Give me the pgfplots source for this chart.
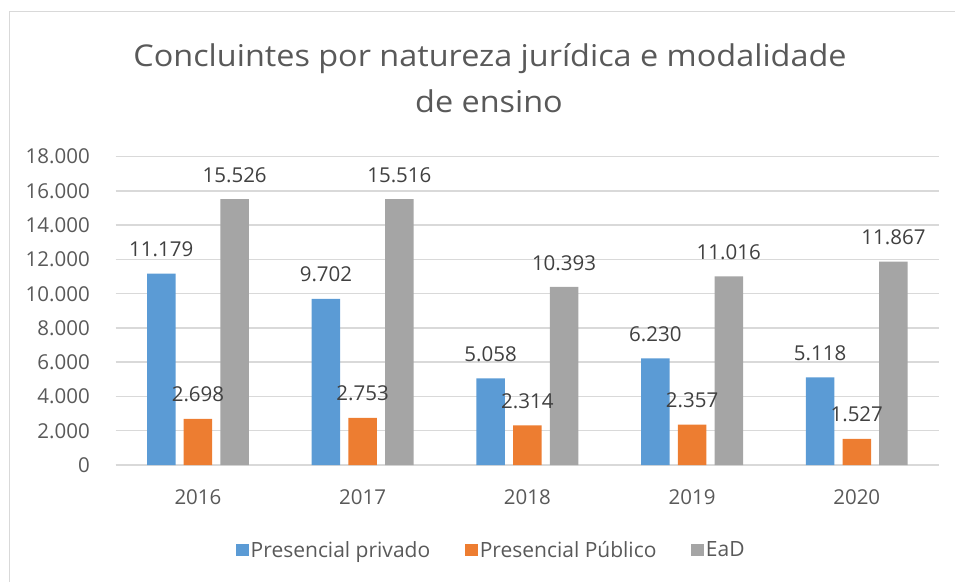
\documentclass[border=0pt]{standalone}
\usepackage{fontspec}
\setmainfont{Open Sans}
\usepackage{pgfplots}
\pgfplotsset{compat=1.18}
\definecolor{cblue}{HTML}{5B9BD5}
\definecolor{corange}{HTML}{ED7D31}
\definecolor{cgray}{HTML}{A5A5A5}
\definecolor{gridc}{HTML}{D9D9D9}
\definecolor{txt}{HTML}{595959}
\definecolor{lbl}{HTML}{404040}
\begin{document}
\begin{tikzpicture}
\path[use as bounding box] (0,0) rectangle (955pt,581pt);
\draw[gridc, line width=1pt] (9pt,-5pt) -- (9pt,569pt) -- (960pt,569pt);
\node[anchor=base, text=txt, font=\fontsize{30}{36}\selectfont, inner sep=0pt] at (490pt,514pt) {\scalebox{1.08}[1]{Concluintes por natureza jurídica e modalidade}};
\node[anchor=base, text=txt, font=\fontsize{30}{36}\selectfont, inner sep=0pt] at (489pt,468pt) {\scalebox{1.08}[1]{de ensino}};
\begin{axis}[
  at={(115.6pt,116pt)}, anchor=south west,
  scale only axis, width=823.5pt, height=308.3pt,
  ybar, bar width=28.5pt, ybar=8.2pt,
  xmin=-0.5, xmax=4.5, ymin=0, ymax=18000,
  xtick={0,1,2,3,4}, xticklabels={2016,2017,2018,2019,2020},
  ytick={0,2000,...,18000},
  scaled y ticks=false,
  ymajorgrids, grid style={gridc, line width=1.5pt},
  axis x line*=bottom, axis y line*=left,
  x axis line style={gridc, line width=1.5pt, -},
  y axis line style={draw=none},
  major tick length=0pt,
  /pgf/number format/assume math mode=true,
  /pgf/number format/.cd, 1000 sep={.}, fixed, precision=0, /pgfplots/.cd,
  ticklabel style={font=\fontsize{20.5}{24}\selectfont, text=txt},
  yticklabel style={inner sep=0pt, anchor=east, xshift=-25.6pt},
  xticklabel style={inner sep=0pt, anchor=north, yshift=-24pt},
  nodes near coords,
  nodes near coords style={font=\fontsize{20.5}{24}\selectfont, text=lbl, anchor=south, inner sep=0pt, yshift=16.5pt,
    /pgf/number format/.cd, 1000 sep={.}, fixed, precision=0, assume math mode=true},
  legend style={at={(0.4564,-0.2757)}, anchor=center, draw=none, fill=none,
    legend columns=-1, font=\fontsize{21}{24}\selectfont, text=txt,
    /tikz/every even column/.append style={column sep=33pt}},
  legend image code/.code={\draw[#1, draw=none] (0pt,-6.25pt) rectangle (12.5pt,6.25pt);},
]
\addplot[fill=cblue, draw=none] coordinates {(0,11179) (1,9702) (2,5058) (3,6230) (4,5118)};
\addplot[fill=corange, draw=none] coordinates {(0,2698) (1,2753) (2,2314) (3,2357) (4,1527)};
\addplot[fill=cgray, draw=none] coordinates {(0,15526) (1,15516) (2,10393) (3,11016) (4,11867)};
\legend{Presencial privado, Presencial Público, EaD}
\end{axis}
\end{tikzpicture}
\end{document}
